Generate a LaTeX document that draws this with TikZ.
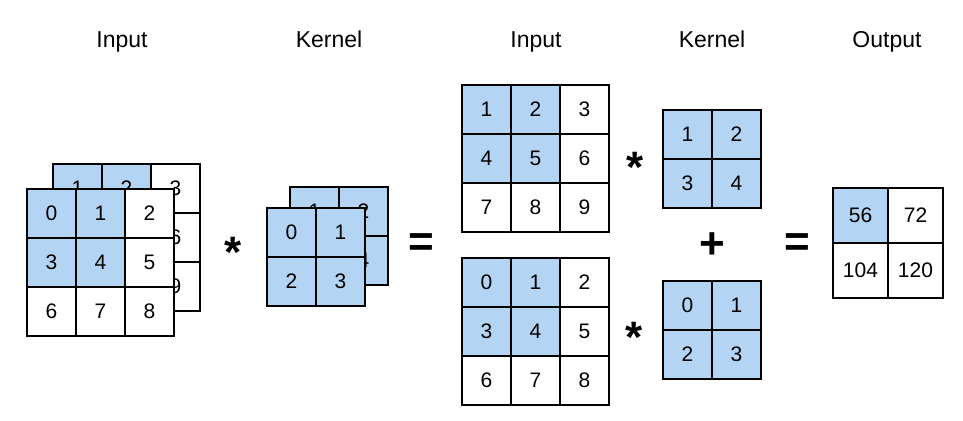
\documentclass[tikz,border=0pt]{standalone}
\usepackage{fontspec}
\setmainfont{Liberation Sans}
\usepackage{xcolor}
\definecolor{CellBlue}{HTML}{B4D4F4}
\usetikzlibrary{positioning}

\begin{document}
\begin{tikzpicture}[x=1pt,y=-1pt,
  cell/.style={draw,line width=2.6pt,minimum size=49pt,inner sep=0pt,
               font=\fontsize{21}{25}\selectfont},
  hit/.style={cell,fill=CellBlue},
  miss/.style={cell,fill=white},
  wide/.style={minimum size=55pt},
  title/.style={anchor=base,font=\fontsize{23}{27}\selectfont},
  op/.style={anchor=base,font=\bfseries\fontsize{44}{48}\selectfont}]
\useasboundingbox (0,0) rectangle (963,420);

% titles
\node[title] (tin1) at (122,48) {Input};
\node[title] (tk1) at (329,48) {Kernel};
\node[title] (tin2) at (536,48) {Input};
\node[title] (tk2) at (712,48) {Kernel};
\node[title] (tout) at (887,48) {Output};

% two-channel input
\begin{scope}[shift={(53,164)}]
\foreach \v/\c/\r/\s in {1/0/0/hit,2/1/0/hit,3/2/0/miss,4/0/1/hit,5/1/1/hit,
                         6/2/1/miss,7/0/2/miss,8/1/2/miss,9/2/2/miss}
  \node[\s] (inb\v) at ({24.5+49*\c},{24.5+49*\r}) {\v};
\end{scope}
\begin{scope}[shift={(27,189)}]
\foreach \v/\c/\r/\s in {0/0/0/hit,1/1/0/hit,2/2/0/miss,3/0/1/hit,4/1/1/hit,
                         5/2/1/miss,6/0/2/miss,7/1/2/miss,8/2/2/miss}
  \node[\s] (inf\v) at ({24.5+49*\c},{24.5+49*\r}) {\v};
\end{scope}

% two-channel kernel
\begin{scope}[shift={(290,187)}]
\foreach \v/\c/\r in {1/0/0,2/1/0,3/0/1,4/1/1}
  \node[hit] (kb\v) at ({24.5+49*\c},{24.5+49*\r}) {\v};
\end{scope}
\begin{scope}[shift={(267,208)}]
\foreach \v/\c/\r in {0/0/0,1/1/0,2/0/1,3/1/1}
  \node[hit] (kf\v) at ({24.5+49*\c},{24.5+49*\r}) {\v};
\end{scope}

% per-channel inputs
\begin{scope}[shift={(462,85)}]
\foreach \v/\c/\r/\s in {1/0/0/hit,2/1/0/hit,3/2/0/miss,4/0/1/hit,5/1/1/hit,
                         6/2/1/miss,7/0/2/miss,8/1/2/miss,9/2/2/miss}
  \node[\s] (xa\v) at ({24.5+49*\c},{24.5+49*\r}) {\v};
\end{scope}
\begin{scope}[shift={(462,258)}]
\foreach \v/\c/\r/\s in {0/0/0/hit,1/1/0/hit,2/2/0/miss,3/0/1/hit,4/1/1/hit,
                         5/2/1/miss,6/0/2/miss,7/1/2/miss,8/2/2/miss}
  \node[\s] (xc\v) at ({24.5+49*\c},{24.5+49*\r}) {\v};
\end{scope}

% per-channel kernels
\begin{scope}[shift={(663,110)}]
\foreach \v/\c/\r in {1/0/0,2/1/0,3/0/1,4/1/1}
  \node[hit] (ka\v) at ({24.5+49*\c},{24.5+49*\r}) {\v};
\end{scope}
\begin{scope}[shift={(663,281)}]
\foreach \v/\c/\r in {0/0/0,1/1/0,2/0/1,3/1/1}
  \node[hit] (kc\v) at ({24.5+49*\c},{24.5+49*\r}) {\v};
\end{scope}

% output
\begin{scope}[shift={(833,188)}]
\foreach \v/\c/\r/\s in {56/0/0/hit,72/1/0/miss,104/0/1/miss,120/1/1/miss}
  \node[\s,wide] (y\v) at ({27.5+55*\c},{27.5+55*\r}) {\v};
\end{scope}

% operators
\node[op] (star1) at (233,267) {*};
\node[op] (eq1) at (421,256) {=};
\node[op] (star2) at (635,182) {*};
\node[op] (star3) at (634,352) {*};
\node[op] (plus) at (712,258) {+};
\node[op] (eq2) at (797,256) {=};
\end{tikzpicture}
\end{document}
